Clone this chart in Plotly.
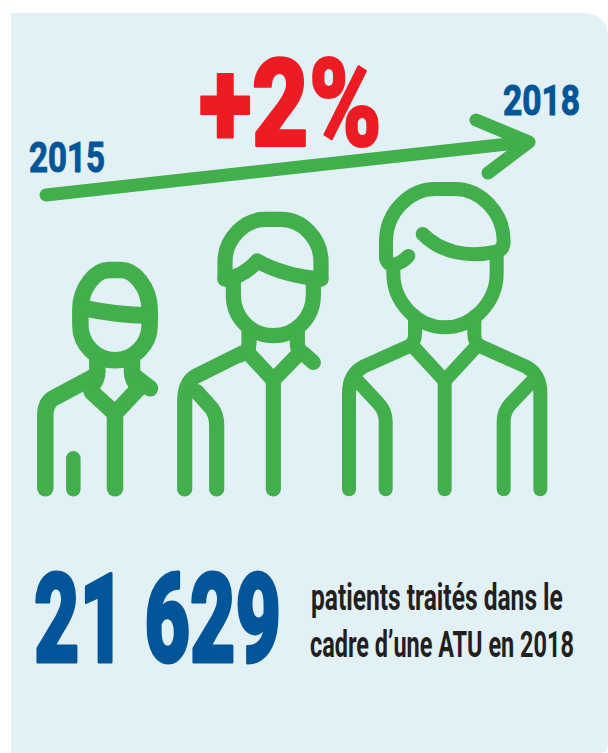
import plotly.graph_objects as go

# ---- content ----
YEAR_LABELS = ["2015", "2018"]
GROWTH_LABEL = "+2%"
PATIENTS_LABEL = "21 629"
CAPTION_LINES = ["patients traités dans le", "cadre d’une ATU en 2018"]

# ---- colours ----
PANEL = "#e1f1f5"
GREEN = "#42ae4c"
BLUE = "#025598"
RED = "#ed1c24"
INK = "#231f20"
FONT = "Roboto"

# ---- text placement: label, left x, right x, centre y, font size, weight, colour, extra stroke ----
TEXTS = [
    (YEAR_LABELS[0], 27, 103, 157, 42, 700, BLUE, 1.0),
    (YEAR_LABELS[1], 501, 578, 100, 42, 700, BLUE, 1.0),
    (GROWTH_LABEL, 197, 380, 104, 122, 900, RED, 2.2),
    (PATIENTS_LABEL, 32, 279, 619, 125, 900, BLUE, 3.2),
    (CAPTION_LINES[0], 309, 561, 597, 37, 700, INK, 0),
    (CAPTION_LINES[1], 308, 572, 644, 37, 700, INK, 0),
]

# ---- pictogram strokes, in the pixels of the sketch crop: origin x, origin y, width, paths ----
SMALL = (20, 230, 16.5, [
    "M181 240 C181 170 230 120 265 120 L305 120 C340 120 389 170 389 240 L389 285 C389 345 340 391 285 391 C230 391 181 345 181 285 Z",
    "M185 233 Q285 255 389 257",
    "M232 390 L232 425 Q232 450 212 470",
    "M336 390 L336 425 Q336 450 356 470",
    "M225 438 L100 505 Q76 520 76 555 L76 775",
    "M345 440 L390 475",
    "M215 486 L285 550 L355 476",
    "M285 550 L285 775",
])
SMALL_BAR = (20, 230, 14.5, ["M160 685 L160 778"])

MIDDLE = (170, 205, 15.2, [
    "M165 222 L165 170 C165 100 225 43 285 43 L335 43 C395 43 453 100 453 170 L453 222",
    "M165 222 Q220 215 262 168 Q340 212 453 222",
    "M190 225 L190 270 C190 340 245 392 310 392 C375 392 430 340 430 270 L430 225",
    "M237 380 L237 415 Q237 440 210 450",
    "M382 380 L382 415 Q382 440 405 450",
    "M215 445 L75 515 Q44 535 44 590 L44 852",
    "M400 445 L430 472",
    "M240 450 L310 525 L378 455",
    "M310 525 L310 852",
    "M80 560 L125 610 Q140 630 140 660 L140 852",
])

LARGE = (320, 170, 14, [
    "M198 260 L198 215 C198 125 270 57 345 57 L405 57 C480 57 551 125 551 215 Q551 238 530 245",
    "M308 192 C360 245 440 265 530 245",
    "M265 258 Q245 280 218 285 Q205 285 198 265",
    "M220 285 L220 310 C220 400 295 472 375 472 C455 472 530 400 530 310 L530 260",
    "M285 440 L285 490 Q285 518 270 526",
    "M463 440 L463 490 Q463 518 478 526",
    "M275 525 L130 590 Q87 612 87 670 L87 958",
    "M473 525 L618 590 Q661 612 661 670 L661 958",
    "M280 530 L374 632 L468 530",
    "M374 632 L374 958",
    "M110 630 L175 700 Q197 722 197 755 L197 958",
    "M640 630 L573 700 Q551 722 551 755 L551 958",
])

ARROW = (0, 0, 13, [
    "M46 195 L526 142",
    "M476 120 L529 142 L488 173",
])

PANEL_PATH = "M11 13 L582 13 Q608 13 608 38 L608 743 Q608 753 600 753 L11 753 Z"


def to_plot(origin_x, origin_y, path):
    """Scale crop pixels to the chart's data coordinates."""
    out, is_x = [], True
    for tok in path.split():
        cmd = ""
        if tok[0].isalpha():
            cmd, tok = tok[0], tok[1:]
        if not tok:
            out.append(cmd)
            continue
        value = float(tok)
        value = origin_x + value / 3 if is_x else origin_y + value / 3
        is_x = not is_x
        out.append(f"{cmd}{value:.2f}")
    return " ".join(out)


shapes = [dict(type="path", path=PANEL_PATH, xref="x", yref="y",
               fillcolor=PANEL, line=dict(width=0), layer="below")]
for ox, oy, width, paths in (SMALL, SMALL_BAR, MIDDLE, LARGE):
    for p in paths:
        shapes.append(dict(type="path", path=to_plot(ox, oy, p), xref="x", yref="y",
                           line=dict(color=GREEN, width=width), layer="above"))
for p in ARROW[3]:
    shapes.append(dict(type="path", path=p, xref="x", yref="y",
                       line=dict(color=GREEN, width=ARROW[2]), layer="above"))

annotations = [
    dict(x=left, y=cy, xref="x", yref="y", text=label, showarrow=False,
         xanchor="left", yanchor="middle", align="left",
         font=dict(family=FONT, size=size, color=color, weight=weight))
    for label, left, right, cy, size, weight, color, stroke in TEXTS
]

fig = go.Figure()
fig.update_layout(
    width=608, height=753, margin=dict(l=0, r=0, t=0, b=0),
    paper_bgcolor="white", plot_bgcolor="white", showlegend=False,
    xaxis=dict(range=[0, 608], visible=False, fixedrange=True),
    yaxis=dict(range=[753, 0], visible=False, fixedrange=True),
    shapes=shapes, annotations=annotations,
)

js_spec = "{" + ",".join(f'{t[0]!r}:[{t[2] - t[1]},{t[7]},{t[6]!r}]' for t in TEXTS) + "}"
post = """
document.body.style.margin='0';
document.documentElement.style.overflow='hidden';
document.querySelectorAll('.shapelayer path').forEach(function(p){
  p.style.strokeLinecap='round'; p.style.strokeLinejoin='round';
});
var spec=%s;
document.querySelectorAll('.annotation-text').forEach(function(t){
  var s=spec[t.textContent]; if(!s) return;
  var b=t.getBBox(), k=s[0]/b.width;
  t.setAttribute('transform','translate('+b.x+',0) scale('+k+',1) translate('+(-b.x)+',0)');
  t.style.stroke=s[2]; t.style.strokeWidth=s[1]+'px'; t.style.strokeLinejoin='round';
  var bg=t.parentNode.querySelector('.bg');
  if(bg) bg.setAttribute('width',s[0]);
});
""" % js_spec

fig.write_html("out.html", post_script=post, config=dict(displayModeBar=False))
